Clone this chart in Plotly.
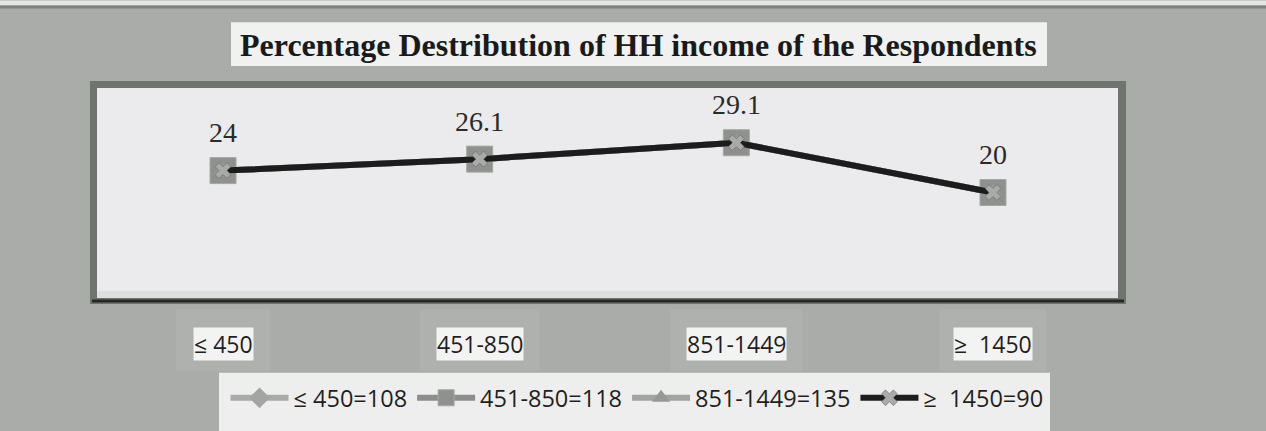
import plotly.graph_objects as go

# ---- data ----
categories = ["≤ 450", "451-850", "851-1449", "≥  1450"]
series_names = ["≤ 450=108", "451-850=118", "851-1449=135", "≥  1450=90"]
s1_values = [24, 26.1, 29.1, 20]
s2_values = [24, 26.1, 29.1, 20]
s3_values = [24, 26.1, 29.1, 20]
s4_values = [24, 26.1, 29.1, 20]
label_values = [24, 26.1, 29.1, 20]
title_text = "Percentage Destribution of HH income of the Respondents"

W, H = 1266, 431
L, R, T, B = 97, 1118, 88, 298  # plot area in pixels
XR = [-0.491, 3.487]


def px(xp):
    return (xp - L) / (R - L)


def py(yp):
    return (B - yp) / (B - T)


fig = go.Figure()

styles = [
    dict(line=dict(color="#a9aba9", width=6),
         marker=dict(symbol="diamond", size=20, color="#a3a5a3")),
    dict(line=dict(color="#8c8e8c", width=6),
         marker=dict(symbol="square", size=26, color="#8f918f",
                     line=dict(color="#a5a7a5", width=1))),
    dict(line=dict(color="#a2a4a2", width=6),
         marker=dict(symbol="triangle-up", size=18, color="#969896")),
    dict(line=dict(color="#1c1c1c", width=6),
         marker=dict(symbol="x", size=14, color="#a9aba9",
                     line=dict(color="#5a5a5a", width=0.5))),
]
all_values = [s1_values, s2_values, s3_values, s4_values]
for name, vals, st in zip(series_names, all_values, styles):
    fig.add_trace(go.Scatter(x=categories, y=vals, name=name, mode="lines+markers",
                             line=st["line"], marker=st["marker"], hoverinfo="skip"))

shapes = []
# top light strip + dark edge line
shapes.append(dict(type="rect", xref="paper", yref="paper", x0=px(0), x1=px(W), y0=py(0), y1=py(5),
                   fillcolor="#e4e6e4", line=dict(width=0), layer="below"))
shapes.append(dict(type="line", xref="paper", yref="paper", x0=px(0), x1=px(W), y0=py(6.5), y1=py(6.5),
                   line=dict(color="#7c817c", width=3), layer="below"))
# title box
shapes.append(dict(type="rect", xref="paper", yref="paper", x0=px(231), x1=px(1047), y0=py(66), y1=py(22),
                   fillcolor="#f0f1f0", line=dict(width=0), layer="below"))
# plot frame
shapes.append(dict(type="rect", xref="paper", yref="paper", x0=px(90), x1=px(1126), y0=py(305), y1=py(81),
                   fillcolor="#6f746f", line=dict(width=0), layer="below"))
shapes.append(dict(type="rect", xref="paper", yref="paper", x0=px(97), x1=px(1118), y0=py(299), y1=py(88),
                   fillcolor="#ebebed", line=dict(width=0), layer="below"))
shapes.append(dict(type="rect", xref="paper", yref="paper", x0=px(97), x1=px(1118), y0=py(299), y1=py(292),
                   fillcolor="#dcdee0", line=dict(width=0), layer="below"))
shapes.append(dict(type="line", xref="paper", yref="paper", x0=px(92), x1=px(1124), y0=py(302), y1=py(302),
                   line=dict(color="#262826", width=3), layer="below"))
# soft halos behind category labels
unit_px = (R - L) / (XR[1] - XR[0])
for i, c in enumerate(categories):
    half = (len(c.replace("  ", " ")) * 12.5 / 2 + 16) / unit_px
    shapes.append(dict(type="rect", xref="x", yref="paper", x0=i - half, x1=i + half,
                       y0=py(372), y1=py(310), fillcolor="rgba(255,255,255,0.07)",
                       line=dict(width=0), layer="below"))
# legend box
shapes.append(dict(type="rect", xref="paper", yref="paper", x0=px(219), x1=px(1050), y0=py(440), y1=py(374),
                   fillcolor="#eeeeee", line=dict(width=0), layer="below"))

annotations = []
annotations.append(dict(text="<b>" + title_text + "</b>", x=px(638), y=py(45), xref="paper", yref="paper",
                        xanchor="center", yanchor="middle", showarrow=False,
                        font=dict(family="Liberation Serif", size=32, color="#1a1a1a")))
# category labels with white boxes
for c in categories:
    annotations.append(dict(text=c, x=c, xref="x", y=py(345), yref="paper", xanchor="center",
                            yanchor="middle", showarrow=False, bgcolor="#f3f3f3", borderpad=0,
                            font=dict(family="Open Sans", size=23, color="#1f1f1f")))
# data labels
for c, v in zip(categories, label_values):
    annotations.append(dict(text=f"{v:g}", x=c, y=v, xref="x", yref="y", yshift=38,
                            showarrow=False, xanchor="center", yanchor="middle",
                            font=dict(family="Liberation Serif", size=28, color="#2a2a2a")))

fig.update_layout(
    width=W, height=H,
    margin=dict(l=L, r=W - R, t=T, b=H - B, pad=0),
    paper_bgcolor="#a9aca8",
    plot_bgcolor="rgba(0,0,0,0)",
    showlegend=True,
    legend=dict(orientation="h", x=px(637), xanchor="center", y=py(398), yanchor="middle",
                bgcolor="rgba(0,0,0,0)", font=dict(family="Open Sans", size=23.5, color="#1f1f1f"),
                itemwidth=58, tracegroupgap=0),
    xaxis=dict(type="category", range=XR, showgrid=False, zeroline=False,
               showline=False, showticklabels=False, ticks=""),
    yaxis=dict(range=[0.9, 39.1], showgrid=False, zeroline=False, showline=False,
               showticklabels=False, ticks=""),
    shapes=shapes,
    annotations=annotations,
)

fig.write_html("out.html", config={"displayModeBar": False},
               post_script="document.body.style.margin='0';document.body.style.overflow='hidden';")
